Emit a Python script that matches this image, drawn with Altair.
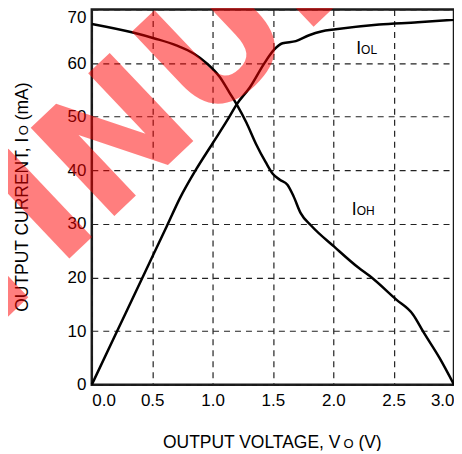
import altair as alt
import pandas as pd

# ---- data ----
iol_v = [0.0, 0.21, 0.42, 0.62, 0.73, 0.865, 1.0, 1.14, 1.20, 1.31, 1.43, 1.51, 1.58, 1.69, 1.80, 1.90, 2.02, 2.38, 2.70, 3.0]
iol_i = [0.0, 10.0, 20.0, 29.5, 34.8, 40.2, 45.0, 50.0, 52.3, 55.5, 60.0, 62.5, 63.7, 64.1, 65.2, 65.9, 66.3, 67.2, 67.6, 68.1]

ioh_v = [0.0, 0.34, 0.52, 0.70, 0.85, 0.95, 1.06, 1.14, 1.20, 1.28, 1.36, 1.44, 1.50, 1.56, 1.62, 1.67, 1.73, 1.82, 2.01, 2.21, 2.30, 2.52, 2.66, 2.75, 2.88, 3.0]
ioh_i = [67.3, 65.7, 64.6, 63.3, 61.7, 60.0, 57.4, 54.5, 52.3, 48.9, 44.9, 41.5, 39.3, 38.2, 37.3, 35.2, 32.0, 29.6, 25.7, 21.8, 20.3, 15.9, 13.1, 9.7, 5.0, 0.0]

x_ticks = [0.0, 0.5, 1.0, 1.5, 2.0, 2.5, 3.0]
y_ticks = [0, 10, 20, 30, 40, 50, 60, 70]

curve_labels = [
    {"main": "I", "sub": "OL", "v": 2.19, "i": 61.7},
    {"main": "I", "sub": "OH", "v": 2.153, "i": 31.7},
]

FONT = "Liberation Sans"
W, H = 363, 376

rows = [{"V": v, "I": i, "series": "IOL"} for v, i in zip(iol_v, iol_i)]
rows += [{"V": v, "I": i, "series": "IOH"} for v, i in zip(ioh_v, ioh_i)]
df = pd.DataFrame(rows)

xs = alt.Scale(domain=[0, 3.0], nice=False, zero=False)
ys = alt.Scale(domain=[0, 70], nice=False, zero=False)

lines = alt.Chart(df).mark_line(color="black", strokeWidth=2.5, interpolate="monotone").encode(
    x=alt.X("V:Q", scale=xs, axis=alt.Axis(values=x_ticks, format=".1f", title=None, labelFlush=True,
                                             labelPadding=8, grid=True)),
    y=alt.Y("I:Q", scale=ys, axis=alt.Axis(values=y_ticks, title=None, labelPadding=6, grid=True,
                                             labelBaseline={"condition": {"test": "datum.value == 70", "value": "top"}, "value": "middle"})),
    detail="series:N",
)

lab_df = pd.DataFrame(curve_labels)
lab_main = alt.Chart(lab_df).mark_text(font=FONT, fontSize=17.5, align="left", baseline="alphabetic", color="black").encode(
    x=alt.X("v:Q", scale=xs), y=alt.Y("i:Q", scale=ys), text="main:N")
lab_sub = alt.Chart(lab_df).mark_text(font=FONT, fontSize=12, align="left", baseline="alphabetic", color="black", dx=4.9).encode(
    x=alt.X("v:Q", scale=xs), y=alt.Y("i:Q", scale=ys), text="sub:N")

one = pd.DataFrame({"k": [0]})

def ptext(txt, x, y, size, angle=0, **kw):
    return alt.Chart(one).mark_text(text=txt, font=FONT, fontSize=size, align="left", baseline="alphabetic",
                                    color="black", angle=angle, **kw).encode(x=alt.value(x), y=alt.value(y))

# x-axis title: OUTPUT VOLTAGE, V_O (V)
xt = [
    ptext("OUTPUT VOLTAGE, V", 71.3, 439, 17.5),
    ptext("O", 252.2, 439, 13),
    ptext("(V)", 267.2, 439, 17.5),
]
# y-axis title: OUTPUT CURRENT, I_O (mA)
yt = [
    ptext("OUTPUT CURRENT, I", -64, 303, 17.5, angle=270),
    ptext("O", -64, 126.1, 13, angle=270),
    ptext("(mA)", -64, 111.1, 17.5, angle=270),
]

watermark = alt.Chart(one).mark_text(text="DISCONTINUED", font="DejaVu Sans", fontWeight="bold", fontSize=167,
                                     align="center", baseline="alphabetic", angle=316.5,
                                     color="#ff0000", opacity=0.5).encode(x=alt.value(-124), y=alt.value(345.9))

chart = alt.layer(lines, lab_main, lab_sub, *xt, *yt, watermark).properties(
    width=W, height=H,
    autosize=alt.AutoSizeParams(type="none"),
    padding={"left": 84, "top": 1, "right": 0, "bottom": 66},
).configure_view(
    stroke="#1a1a1a", strokeWidth=2.5
).configure_axis(
    domain=False, ticks=False, tickSize=0,
    labelFont=FONT, labelFontSize=17, labelColor="black",
    gridColor="#222222", gridDash=[6, 5], gridWidth=1.2, gridOpacity=1,
)

chart.save("out.html", embed_options={"renderer": "svg", "actions": False})
